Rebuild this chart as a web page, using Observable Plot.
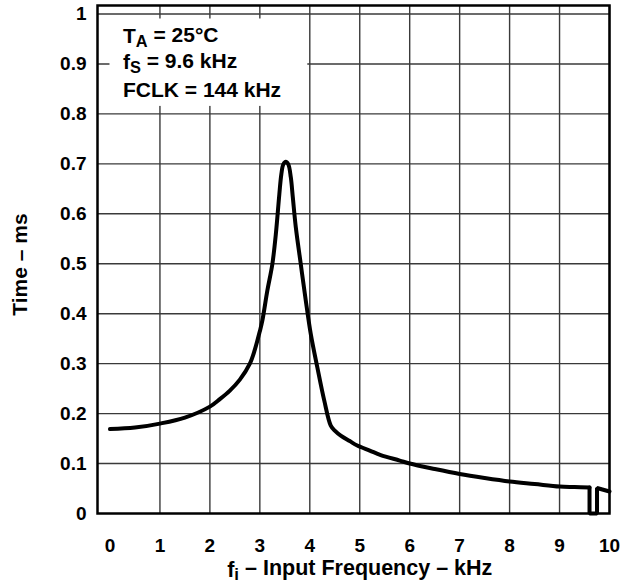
<!DOCTYPE html>
<html>
<head>
<meta charset="utf-8">
<script src="https://cdn.jsdelivr.net/npm/d3@7"></script>
<script src="https://cdn.jsdelivr.net/npm/@observablehq/plot@0.6"></script>
<style>
  html, body { margin: 0; padding: 0; background: #fff; }
  #chart svg { display: block; background: #fff; overflow: visible; }
</style>
</head>
<body>
<div id="chart"></div>
<script>
// Main curve: input frequency (kHz) vs time (ms)
const freqKHz = [0, 0.5, 1, 1.5, 2, 2.2, 2.4, 2.6, 2.8, 2.9, 3.0, 3.05, 3.15, 3.25, 3.32, 3.39, 3.43, 3.47, 3.52, 3.57, 3.62, 3.66, 3.72, 3.82, 3.92, 4.02, 4.15, 4.29, 4.42, 4.5, 4.62, 4.8, 4.95, 5.2, 5.42, 5.8, 6, 6.5, 7, 7.5, 8, 8.5, 9, 9.3, 9.6];
const timeMs  = [0.169, 0.172, 0.18, 0.192, 0.214, 0.229, 0.246, 0.268, 0.30, 0.328, 0.365, 0.386, 0.446, 0.499, 0.559, 0.639, 0.679, 0.699, 0.704, 0.699, 0.673, 0.633, 0.573, 0.499, 0.426, 0.359, 0.293, 0.226, 0.176, 0.166, 0.156, 0.145, 0.136, 0.126, 0.117, 0.106, 0.100, 0.089, 0.079, 0.071, 0.064, 0.059, 0.054, 0.053, 0.052];
// Notch near fs
const notchFreq = [9.6, 9.6, 9.75, 9.75, 10];
const notchTime = [0.052, 0, 0, 0.051, 0.044];

const xTicks = [0, 1, 2, 3, 4, 5, 6, 7, 8, 9, 10];
const yTicks = [0, 0.1, 0.2, 0.3, 0.4, 0.5, 0.6, 0.7, 0.8, 0.9, 1];
const yTickLabels = ["0", "0.1", "0.2", "0.3", "0.4", "0.5", "0.6", "0.7", "0.8", "0.9", "1"];

const noteLines = ["TA = 25°C", "fS = 9.6 kHz", "FCLK = 144 kHz"];
const noteY = [0.955, 0.903, 0.848];
const xTitle = "fi – Input Frequency – kHz";
const yTitle = "Time – ms";

const curve = freqKHz.map((f, i) => ({f, t: timeMs[i]}));
const notch = notchFreq.map((f, i) => ({f, t: notchTime[i]}));
const notes = noteLines.map((s, i) => ({s, y: noteY[i]}));

const FONT = "'Liberation Sans', Arial, Helvetica, sans-serif";

const plot = Plot.plot({
  width: 624,
  height: 588,
  marginLeft: 97,
  marginRight: 15,
  marginTop: 5,
  marginBottom: 75,
  style: {fontFamily: FONT, fontWeight: "bold", fontSize: "19px", color: "black", background: "white"},
  x: {domain: [-0.25, 10]},
  y: {domain: [0, 1.017]},
  marks: [
    Plot.gridX(xTicks.slice(1), {stroke: "#3a3a3a", strokeOpacity: 1, strokeWidth: 1.4}),
    Plot.gridY(yTicks.slice(1), {stroke: "#3a3a3a", strokeOpacity: 1, strokeWidth: 1.4}),
    Plot.rect([{x1: 0, x2: 3.96, y1: 0.815, y2: 0.99}], {x1: "x1", x2: "x2", y1: "y1", y2: "y2", fill: "white"}),
    Plot.axisX(xTicks, {tickSize: 0, tickPadding: 25, fontSize: 19, fontWeight: "bold", label: null}),
    Plot.axisY(yTicks, {tickSize: 0, tickPadding: 11, fontSize: 19, fontWeight: "bold", label: null,
      tickFormat: (d) => yTickLabels[yTicks.indexOf(d)]}),
    Plot.line(curve, {x: "f", y: "t", stroke: "black", strokeWidth: 4, curve: "catmull-rom", strokeLinejoin: "round"}),
    Plot.line(notch, {x: "f", y: "t", stroke: "black", strokeWidth: 4, strokeLinejoin: "miter"}),
    Plot.frame({stroke: "black", strokeWidth: 2.5}),
    Plot.text(notes, {x: 0.26, y: "y", text: "s", textAnchor: "start", fontSize: 21, fontWeight: "bold", fill: "black"}),
    Plot.text([xTitle], {x: 5, frameAnchor: "bottom", dy: 63, text: (d) => d, fontSize: 21.5, fontWeight: "bold", fill: "black"}),
    Plot.text([yTitle], {frameAnchor: "left", textAnchor: "middle", dx: -77, dy: 5, rotate: -90, text: (d) => d, fontSize: 21, fontWeight: "bold", fill: "black"})
  ]
});
document.getElementById("chart").appendChild(plot);

// Subscripts (T_A, f_S, f_i)
const subs = {"TA = 25°C": ["T", "A", " = 25°C"], "fS = 9.6 kHz": ["f", "S", " = 9.6 kHz"], [xTitle]: ["f", "i", " – Input Frequency – kHz"]};
d3.select(plot).selectAll("text").each(function() {
  const el = d3.select(this);
  const key = this.textContent;
  if (subs[key] && this.children.length === 0) {
    const [a, b, c] = subs[key];
    el.text(null);
    el.append("tspan").text(a);
    el.append("tspan").attr("dy", "0.22em").attr("font-size", "0.78em").text(b);
    el.append("tspan").attr("dy", "-0.22em").text(c);
  }
});
</script>
</body>
</html>
